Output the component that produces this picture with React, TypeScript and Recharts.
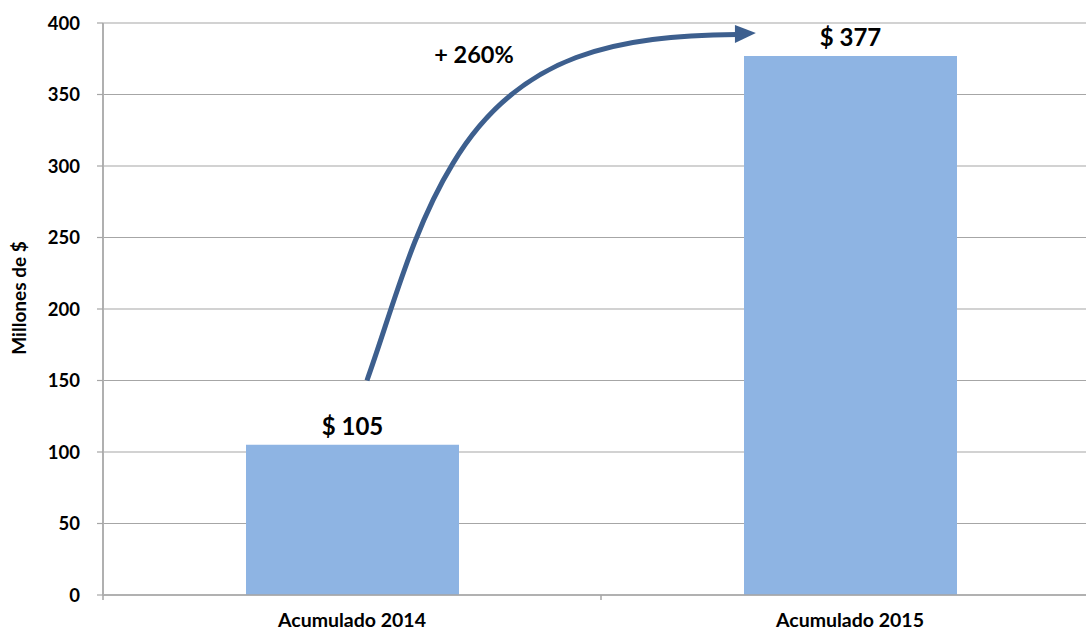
import React from "react";
import {
  BarChart,
  Bar,
  XAxis,
  YAxis,
  CartesianGrid,
  LabelList,
  Customized,
} from "recharts";

const categories = ["Acumulado 2014", "Acumulado 2015"];
const values = [105, 377];
const yTicks = [0, 50, 100, 150, 200, 250, 300, 350, 400];
const growthText = "+ 260%";
const yTitle = "Millones de $";

// arrow path in chart units: u = band position (1 = one category), v = value
const arrowStart = { u: 0.53, v: 150 };
const arrowSeg1 = [
  { u: 0.582, v: 201 },
  { u: 0.622, v: 256 },
  { u: 0.703, v: 302 },
];
const arrowSeg2 = [
  { u: 0.837, v: 380 },
  { u: 1.038, v: 391 },
  { u: 1.273, v: 392 },
];
const arrowTip = { u: 1.311, v: 393 };
const growthPos = { u: 0.745, v: 372 };

const data = categories.map((name, i) => ({ name, value: values[i] }));

const W = 1100;
const H = 631;
const MARGIN = { top: 23, right: 1, bottom: 0, left: 0 };
const Y_AXIS_W = 103;
const X_AXIS_H = 36;
const Y_MAX = 400;

const plotLeft = MARGIN.left + Y_AXIS_W;
const plotTop = MARGIN.top;
const plotW = W - plotLeft - MARGIN.right;
const plotH = H - MARGIN.top - MARGIN.bottom - X_AXIS_H;
const band = plotW / categories.length;

const xAt = (u: number) => plotLeft + u * band;
const yAt = (v: number) => plotTop + plotH * (1 - v / Y_MAX);

const FONT = "Lato, 'Open Sans', sans-serif";
const ARROW = "#3d5f8e";

function Annotations() {
  const p = (pt: { u: number; v: number }) => `${xAt(pt.u)},${yAt(pt.v)}`;
  const d =
    `M${p(arrowStart)} C${arrowSeg1.map(p).join(" ")} C${arrowSeg2.map(p).join(" ")}`;
  const endX = xAt(arrowSeg2[2].u);
  const endY = yAt(arrowSeg2[2].v);
  const tipX = xAt(arrowTip.u);
  const tipY = yAt(arrowTip.v);
  const bottom = plotTop + plotH;
  return (
    <g>
      {[0, 1, 2].map((u) => (
        <line key={u} x1={xAt(u)} x2={xAt(u)} y1={bottom} y2={bottom + 5} stroke="#a6a6a6" strokeWidth={1.5} />
      ))}
      <path d={d} fill="none" stroke={ARROW} strokeWidth={5} />
      <polygon
        points={`${endX - 2},${endY - 9.5} ${tipX},${tipY} ${endX - 2},${endY + 8.5}`}
        fill={ARROW}
      />
      <text
        x={xAt(growthPos.u)}
        y={yAt(growthPos.v)}
        textAnchor="middle"
        fontFamily={FONT}
        fontWeight="bold"
        fontSize={23.5}
        fill="#000"
      >
        {growthText}
      </text>
      <text
        transform={`translate(26, ${plotTop + plotH / 2 - 11}) rotate(-90)`}
        textAnchor="middle"
        fontFamily={FONT}
        fontWeight="bold"
        fontSize={19}
        fill="#000"
      >
        {yTitle}
      </text>
    </g>
  );
}

export default function App() {
  return (
    <div
      style={{
        position: "absolute",
        left: 0,
        top: 0,
        width: 1086,
        height: 631,
        overflow: "hidden",
        background: "#fff",
        fontFamily: FONT,
      }}
    >
      <BarChart width={W} height={H} data={data} margin={MARGIN}>
        <CartesianGrid vertical={false} stroke="#a6a6a6" strokeWidth={1.2} />
        <XAxis
          dataKey="name"
          height={X_AXIS_H}
          axisLine={{ stroke: "#a6a6a6", strokeWidth: 1.5 }}
          tickLine={false}
          tickSize={6}
          tickMargin={12}
          tick={{ fill: "#000", fontSize: 19.5, fontWeight: "bold", fontFamily: FONT }}
        />
        <YAxis
          width={Y_AXIS_W}
          domain={[0, Y_MAX]}
          ticks={yTicks}
          interval={0}
          axisLine={{ stroke: "#b0b0b0", strokeWidth: 2 }}
          tickLine={{ stroke: "#a6a6a6", strokeWidth: 1.2 }}
          tickSize={6}
          tickMargin={17}
          tick={{ fill: "#000", fontSize: 18.5, fontWeight: "bold", fontFamily: FONT }}
        />
        <Bar dataKey="value" fill="#8eb4e3" barSize={213} isAnimationActive={false}>
          <LabelList
            dataKey="value"
            position="top"
            offset={10}
            formatter={(v: any) => `$ ${v}`}
            fill="#000"
            fontSize={24}
            fontWeight="bold"
            fontFamily={FONT}
          />
        </Bar>
        <Customized component={<Annotations />} />
      </BarChart>
    </div>
  );
}
